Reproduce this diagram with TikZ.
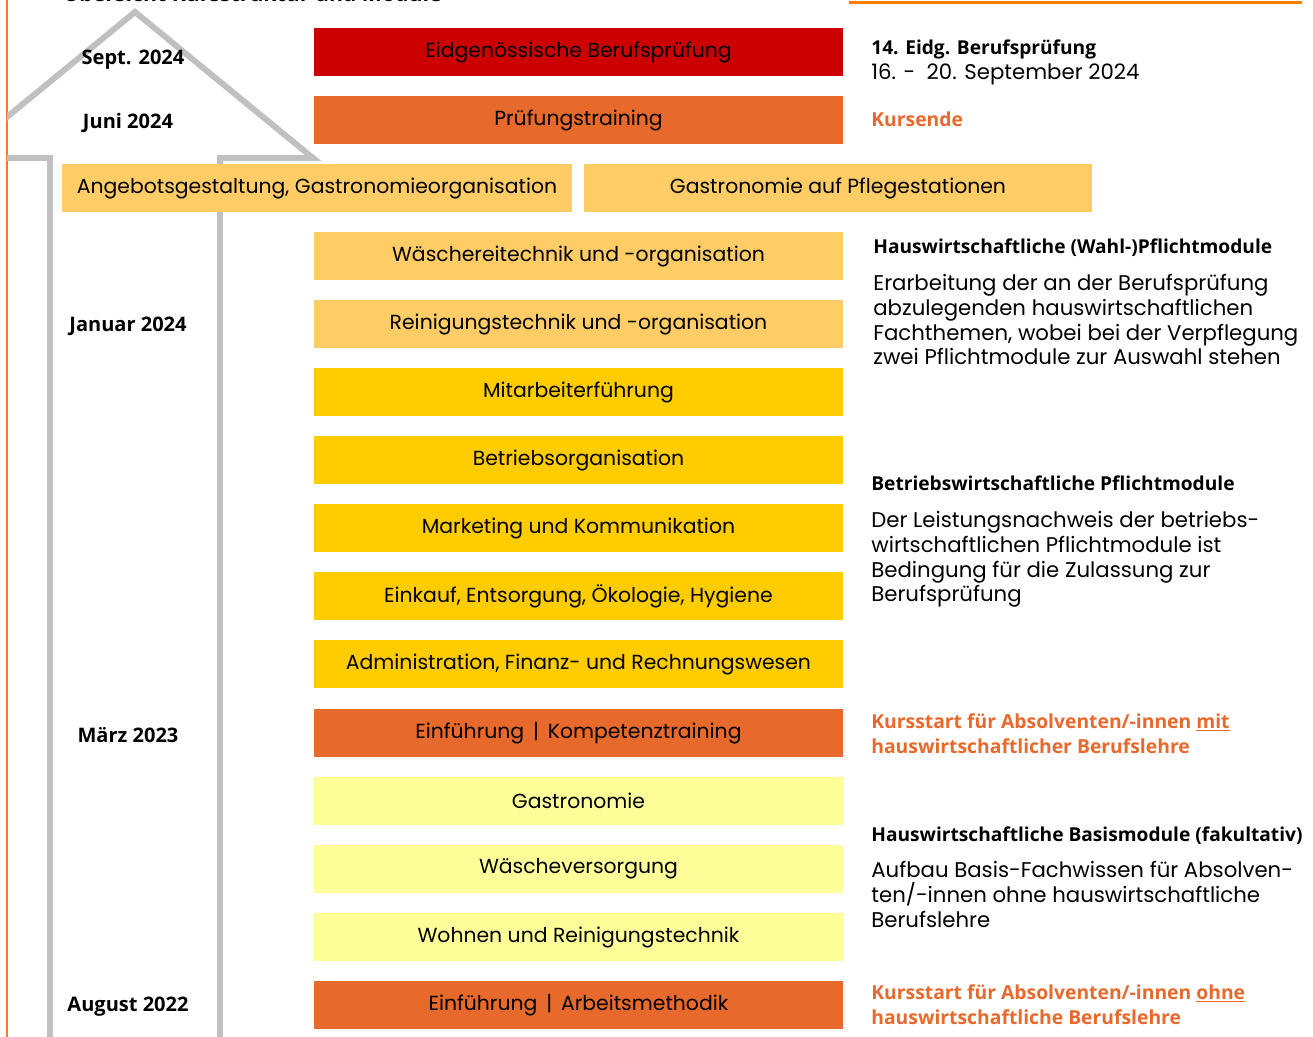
\documentclass[tikz,border=0pt]{standalone}
\usepackage{fontspec}
\setmainfont{Poppins}
\newfontfamily\labelfont{Open Sans}
\usepackage{xcolor}
\definecolor{pruefrot}{HTML}{CC0000}
\definecolor{kursorange}{HTML}{E8692C}
\definecolor{hellorange}{HTML}{FFCC66}
\definecolor{modgelb}{HTML}{FFCC00}
\definecolor{hellgelb}{HTML}{FFFF99}
\definecolor{pfeilgrau}{HTML}{C0C0C0}
\definecolor{randorange}{HTML}{F07838}

\begin{document}
\begin{tikzpicture}[x=0.02cm, y=-0.02cm,
    modbox/.style={rectangle, inner sep=0pt, minimum width=10.58cm, minimum height=0.96cm, font=\fontsize{11.6}{13}\selectfont},
    datum/.style={font=\labelfont\bfseries\fontsize{11.4}{13}\selectfont},
    titel/.style={anchor=base west, inner sep=0pt, align=left, font=\labelfont\bfseries\fontsize{10.9}{14.2}\selectfont},
    info/.style={anchor=base west, inner sep=0pt, align=left, font=\fontsize{12.1}{14.2}\selectfont},
    hinweis/.style={anchor=base west, inner sep=0pt, align=left, text=kursorange, font=\labelfont\bfseries\fontsize{11}{14.2}\selectfont}]
    \useasboundingbox (0,0) rectangle (1313,1037);
    % frame lines
    \draw [randorange, line width=1.2pt] (7,0) -- (7,1037);
    \draw [orange, line width=1.7pt] (849,2.5) -- (1302,2.5);
    \node [anchor=base west, inner sep=0pt, font=\labelfont\bfseries\fontsize{12.1}{15}\selectfont] (ueber) at (63,1.5) {Übersicht Kursstruktur und Module};
    % time arrow
    \begin{scope}
        \clip (7,0) rectangle (1313,1037);
        \draw [pfeilgrau, line width=3.4pt] (50,1045) -- (50,158) -- (-43,158) -- (135,12) -- (313,158) -- (220,158) -- (220,1045);
    \end{scope}
    % modules
    \node [modbox, fill=pruefrot] (eidg) at (578.5, 52) {Eidgenössische Berufsprüfung};
    \node [modbox, fill=kursorange] (training) at (578.5, 120) {Prüfungstraining};
    \node [modbox, fill=hellorange, minimum width=10.2cm] (angebot) at (317, 188) {Angebotsgestaltung, Gastronomieorganisation};
    \node [modbox, fill=hellorange, minimum width=10.16cm] (pflege) at (838, 188) {Gastronomie auf Pflegestationen};
    \node [modbox, fill=hellorange] (waescherei) at (578.5, 256) {Wäschereitechnik und -organisation};
    \node [modbox, fill=hellorange] (reinigung) at (578.5, 324) {Reinigungstechnik und -organisation};
    \node [modbox, fill=modgelb] (mitarbeiter) at (578.5, 392) {Mitarbeiterführung};
    \node [modbox, fill=modgelb] (betrieb) at (578.5, 460) {Betriebsorganisation};
    \node [modbox, fill=modgelb] (marketing) at (578.5, 528) {Marketing und Kommunikation};
    \node [modbox, fill=modgelb] (einkauf) at (578.5, 596) {Einkauf, Entsorgung, Ökologie, Hygiene};
    \node [modbox, fill=modgelb] (admin) at (578.5, 664) {Administration, Finanz- und Rechnungswesen};
    \node [modbox, fill=kursorange] (kompetenz) at (578.5, 733) {Einführung \,|\, Kompetenztraining};
    \node [modbox, fill=hellgelb] (gastro) at (578.5, 801) {Gastronomie};
    \node [modbox, fill=hellgelb] (waesche) at (578.5, 869) {Wäscheversorgung};
    \node [modbox, fill=hellgelb] (wohnen) at (578.5, 937) {Wohnen und Reinigungstechnik};
    \node [modbox, fill=kursorange] (methodik) at (578.5, 1005) {Einführung \,|\, Arbeitsmethodik};
    % dates
    \node [datum] (sept) at (133, 60) {Sept. 2024};
    \node [datum] (juni) at (128, 123) {Juni 2024};
    \node [datum] (januar) at (128, 326) {Januar 2024};
    \node [datum] (maerz) at (128, 735) {März 2023};
    \node [datum] (august) at (128, 1007) {August 2022};
    % descriptions
    \node [titel] (eidgtitel) at (871, 55) {14. Eidg. Berufsprüfung};
    \node [info] (eidgdatum) at (871, 80) {16. -\ \ 20. September 2024};
    \node [hinweis] (kursende) at (871, 127) {Kursende};
    \node [titel] (wahltitel) at (873, 254) {Hauswirtschaftliche (Wahl-)Pflichtmodule};
    \node [info] (wahltext) at (873, 365) {Erarbeitung der an der Berufsprüfung\\abzulegenden hauswirtschaftlichen\\Fachthemen, wobei bei der Verpflegung\\zwei Pflichtmodule zur Auswahl stehen};
    \node [titel] (bwtitel) at (871, 491) {Betriebswirtschaftliche Pflichtmodule};
    \node [info] (bwtext) at (871, 602) {Der Leistungsnachweis der betriebs-\\wirtschaftlichen Pflichtmodule ist\\Bedingung für die Zulassung zur\\Berufsprüfung};
    \node [hinweis] (startmit) at (871, 753) {Kursstart für Absolventen/-innen \underline{mit}\\hauswirtschaftlicher Berufslehre};
    \node [titel] (basistitel) at (871, 841) {Hauswirtschaftliche Basismodule (fakultativ)};
    \node [info] (basistext) at (871, 927) {Aufbau Basis-Fachwissen für Absolven-\\ten/-innen ohne hauswirtschaftliche\\Berufslehre};
    \node [hinweis] (startohne) at (871, 1024) {Kursstart für Absolventen/-innen \underline{ohne}\\hauswirtschaftliche Berufslehre};
\end{tikzpicture}
\end{document}
